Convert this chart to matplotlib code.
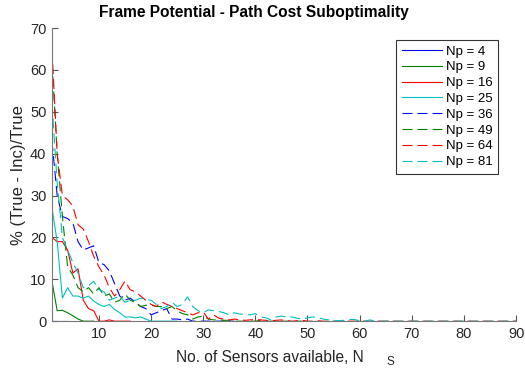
import matplotlib
matplotlib.use("Agg")
import matplotlib.pyplot as plt

plt.rcParams['font.family'] = ['Liberation Sans', 'DejaVu Sans']

# percentage suboptimality per number of available sensors, one list per Np
np4 = [0, 0, 0, 0]
np9 = [9.5, 2.5, 2.6, 2.0, 1.3, 0.5, 0, 0, 0]
np16 = [20, 19, 19, 17, 11.5, 12.5, 5, 3, 2.5, 0, 0, 0.3, 0, 0, 0, 0]
np25 = [27, 19, 5.5, 8, 6, 6, 5.5, 6, 4.8, 4, 3.5, 4, 2.8, 2, 1, 1,
        0.8, 1, 0.5, 0, 0, 0, 0, 0, 0]
np36 = [43, 30, 25, 24.5, 23.5, 19, 17, 17.5, 18, 14, 13.5, 12, 9, 6,
        5, 5.5, 4.5, 3.5, 3, 1.5, 2, 2.5, 3, 0.5, 0.5, 0.3, 0.5, 0,
        0, 0, 0, 0, 0, 0, 0, 0]
np49 = [62, 40, 25, 13, 11, 8, 7, 8, 6.5, 8, 6, 6.5, 4.5, 5, 6.5, 5,
        4.5, 3.5, 3.8, 3.8, 3.5, 3.5, 3, 3.5, 2.5, 1.8, 1.5, 0.5, 1,
        1.2, 0.5, 0.3, 0.3, 0.2, 0.2, 0, 0, 0, 0, 0, 0.2, 0, 0, 0, 0,
        0, 0, 0, 0]
np64 = [65, 40, 30, 29, 27.5, 23, 22, 19, 15.5, 13, 11, 8, 6, 7.5, 9.6,
        7.5, 7, 6, 5, 4, 3.5, 4.6, 4, 3.5, 3, 2.5, 2, 1.5, 2, 2.2, 0.5,
        1.5, 0.7, 0.5, 0.3, 0.5, 0.3, 0.2, 0.3, 0.4, 0.3, 0.2, 0.1, 0.2,
        0.3, 0.1, 0, 0.1, 0.2, 0, 0, 0.1, 0, 0, 0, 0, 0, 0, 0, 0, 0, 0,
        0, 0, 0, 0, 0, 0, 0, 0, 0, 0, 0, 0, 0, 0, 0, 0, 0, 0, 0, 0, 0,
        0, 0, 0, 0, 0, 0, 0]
np81 = [52, 33, 20, 17, 14, 11.5, 8, 8.5, 9.5, 7.5, 7, 5, 5.5, 6, 4.5,
        5, 5, 5.5, 5.2, 5, 4, 3, 3.5, 4.5, 3.5, 4, 5.8, 3.5, 2.5, 2,
        2.7, 2.5, 2.3, 2, 1.5, 2, 1.7, 1.6, 1.5, 1.8, 1, 0.8, 0.3, 1,
        1.2, 1, 1, 0.7, 0.5, 0.8, 1, 0.9, 0.5, 0.3, 0.2, 0.1, 0.2, 0.4,
        0.4, 0.1, 0, 0.3, 0, 0, 0, 0.1, 0, 0, 0, 0, 0, 0, 0, 0, 0, 0, 0,
        0, 0, 0, 0, 0, 0, 0, 0, 0, 0, 0, 0, 0]

blue, green, red, cyan = '#0000ff', '#008000', '#ff0000', '#00bfbf'
series = [(np4, 'Np = 4', blue, '-'), (np9, 'Np = 9', green, '-'),
          (np16, 'Np = 16', red, '-'), (np25, 'Np = 25', cyan, '-'),
          (np36, 'Np = 36', blue, '--'), (np49, 'Np = 49', green, '--'),
          (np64, 'Np = 64', red, '--'), (np81, 'Np = 81', cyan, '--')]

fig = plt.figure(figsize=(5.25, 3.7), dpi=100)
ax = fig.add_axes([0.099, 0.132, 0.884, 0.792])

for vals, lab, col, ls in series:
    xs = range(1, len(vals) + 1)
    ax.plot(xs, vals, color=col, linestyle=ls, linewidth=0.8, label=lab,
            dashes=(9, 4.5) if ls == '--' else (None, None))

ax.set_xlim(1, 90)
ax.set_ylim(0, 70)
ax.set_xticks(range(10, 91, 10))
ax.set_yticks(range(0, 71, 10))
for s in ['top', 'right']:
    ax.spines[s].set_visible(False)
for s in ['left', 'bottom']:
    ax.spines[s].set_color('#777777')
    ax.spines[s].set_linewidth(0.8)
ax.tick_params(direction='in', length=4, width=0.8, color='#555555',
               labelsize=10.5, labelcolor='#262626', pad=4)

fig.text(254 / 525, 1 - 13 / 370, 'Frame Potential - Path Cost Suboptimality',
         fontsize=11.2, fontweight='bold', ha='center', va='center')
ax.set_ylabel('% (True - Inc)/True', fontsize=12, color='#262626', labelpad=3)

# axis label with its subscript drawn separately
fig.text(176 / 525, 1 - 357 / 370, 'No. of Sensors available, N', fontsize=11.2,
         color='#262626', ha='left', va='center')
fig.text(390 / 525, 1 - 362 / 370, 'S', fontsize=8.5, color='#262626',
         ha='center', va='center')

leg = ax.legend(loc='upper right', bbox_to_anchor=(0.962, 0.959), fontsize=9.5,
                frameon=True, fancybox=False, handlelength=3.1,
                handletextpad=0.3, labelspacing=0.27, borderpad=0.4,
                borderaxespad=0)
leg.get_frame().set_edgecolor('black')
leg.get_frame().set_linewidth(0.8)

fig.savefig('out.png', dpi=100)
